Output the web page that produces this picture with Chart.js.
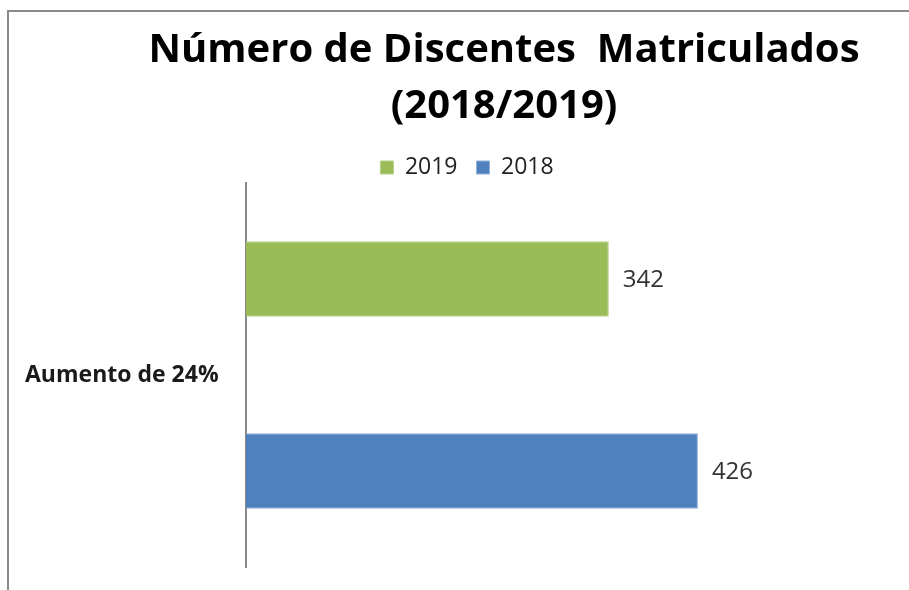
<!DOCTYPE html>
<html>
<head>
<meta charset="utf-8">
<script src="https://cdn.jsdelivr.net/npm/chart.js@4.4.1/dist/chart.umd.min.js"></script>
<style>
  html, body { margin: 0; padding: 0; background: #fff; overflow: hidden; }
  #wrap { position: relative; width: 909px; height: 590px; }
  #frame { position: absolute; left: 7px; top: 10px; width: 940px; height: 620px;
           border-top: 2px solid #8a8a8a; border-left: 2px solid #8a8a8a; }
  #chart { position: absolute; left: 0; top: 0; }
</style>
</head>
<body>
<div id="wrap">
  <div id="frame"></div>
  <canvas id="chart" width="909" height="590"></canvas>
</div>
<script>
const categories = ['Aumento de 24%'];
const seriesNames = ['2019', '2018'];
const values2019 = [342];
const values2018 = [426];
const titleLines = ['Número de Discentes  Matriculados', '(2018/2019)'];

Chart.defaults.font.family = '"Open Sans", sans-serif';

// title drawn by hand so it can sit off-centre like the original
const titlePlugin = {
    id: 'titleText',
    afterDraw(chart) {
        const ctx = chart.ctx;
        ctx.save();
        ctx.font = 'bold 40px "Open Sans"';
        ctx.fillStyle = '#000';
        ctx.textAlign = 'center';
        ctx.textBaseline = 'alphabetic';
        ctx.fillText(titleLines[0], 504, 62);
        ctx.fillText(titleLines[1], 504, 118);
        ctx.restore();
    }
};

// value labels at the end of each bar
const valueLabels = {
    id: 'valueLabels',
    afterDatasetsDraw(chart) {
        const ctx = chart.ctx;
        ctx.save();
        ctx.font = '24px "Open Sans"';
        ctx.fillStyle = '#333';
        ctx.textAlign = 'left';
        ctx.textBaseline = 'middle';
        chart.data.datasets.forEach((ds, i) => {
            chart.getDatasetMeta(i).data.forEach((bar, j) => {
                ctx.fillText(ds.data[j], bar.x + 14, bar.y + 1);
            });
        });
        ctx.restore();
    }
};

new Chart(document.getElementById('chart'), {
    type: 'bar',
    data: {
        labels: categories,
        datasets: [
            {
                label: seriesNames[0],
                data: values2019,
                backgroundColor: '#9BBB59',
                borderColor: '#b5cf86',
                borderWidth: 1,
                borderSkipped: 'left'
            },
            {
                label: seriesNames[1],
                data: values2018,
                backgroundColor: '#4F81BD',
                borderColor: '#8fb0db',
                borderWidth: 1,
                borderSkipped: 'left'
            }
        ]
    },
    options: {
        indexAxis: 'y',
        responsive: false,
        animation: false,
        layout: { padding: { top: 137, left: 25, right: 0, bottom: 23 } },
        categoryPercentage: 1,
        barPercentage: 0.394,
        scales: {
            x: { display: false, min: 0, max: 625 },
            y: {
                grid: { display: false, drawTicks: false },
                border: { display: true, color: '#888', width: 2 },
                ticks: {
                    padding: 0,
                    crossAlign: 'far',
                    color: '#1a1a1a',
                    font: { size: 23, weight: 'bold' }
                },
                afterFit: s => { s.width = 221; }
            }
        },
        plugins: {
            title: { display: false },
            tooltip: { enabled: false },
            legend: {
                position: 'top',
                maxHeight: 46,
                labels: {
                    boxWidth: 13,
                    boxHeight: 13,
                    padding: 19,
                    color: '#222',
                    font: { size: 23 }
                }
            }
        }
    },
    plugins: [titlePlugin, valueLabels]
});
</script>
</body>
</html>
